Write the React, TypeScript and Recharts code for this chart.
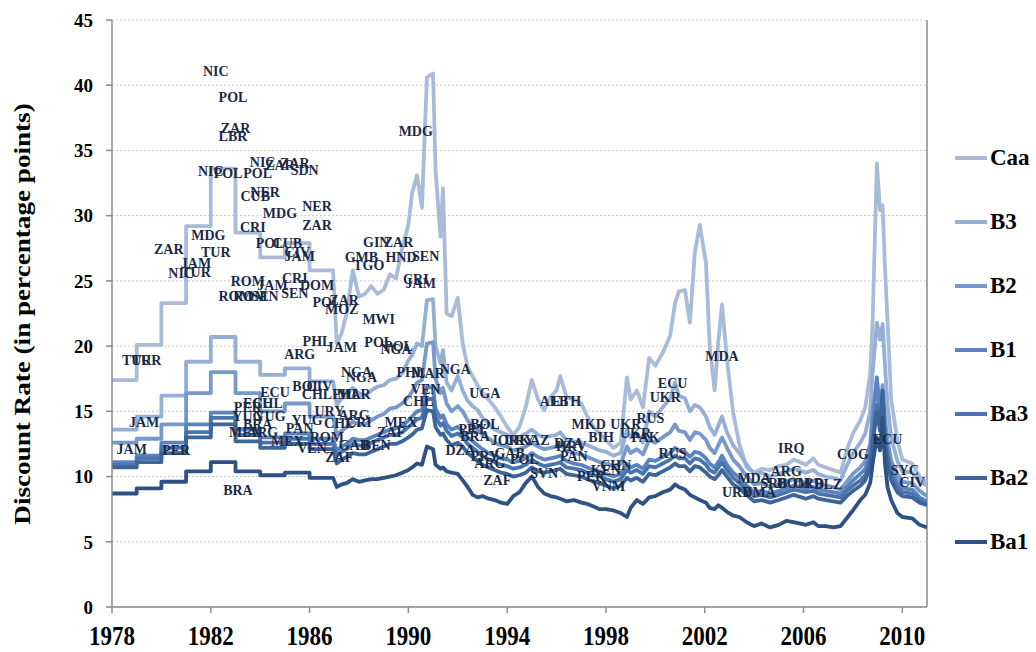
import { ComposedChart, Line, Scatter, XAxis, YAxis, CartesianGrid, ReferenceLine, Label } from 'recharts';

const FONT = '"Liberation Serif", "Times New Roman", serif';

// time points (duplicated years give the yearly steps before 1987)
const years = [
  1978, 1979, 1979, 1980, 1980, 1981, 1981, 1982, 1982, 1983, 1983, 1984, 1984, 1985, 1985, 1986, 1986, 1986.95,
  1987.1, 1987.3, 1987.5, 1987.75, 1988.0, 1988.25, 1988.5, 1988.75, 1989.0, 1989.25, 1989.5, 1989.75,
  1990.0, 1990.15, 1990.35, 1990.55, 1990.75, 1991.0, 1991.1, 1991.3, 1991.4, 1991.55, 1991.75,
  1992.0, 1992.2, 1992.4, 1992.6, 1992.8, 1993.0, 1993.25, 1993.5, 1993.75,
  1994.0, 1994.25, 1994.5, 1994.75, 1995.0, 1995.25, 1995.5, 1995.75,
  1996.0, 1996.15, 1996.4, 1996.7, 1997.0, 1997.25, 1997.5, 1997.75,
  1998.0, 1998.3, 1998.6, 1998.85, 1999.0, 1999.25, 1999.5, 1999.75,
  2000.0, 2000.3, 2000.6, 2000.8, 2000.95, 2001.2, 2001.4, 2001.6, 2001.8,
  2002.05, 2002.2, 2002.4, 2002.55, 2002.7, 2002.9, 2003.15, 2003.4, 2003.7,
  2004.0, 2004.3, 2004.65, 2005.0, 2005.3, 2005.6, 2006.1, 2006.4, 2006.6, 2006.9,
  2007.2, 2007.5, 2007.75, 2008.0, 2008.3, 2008.5, 2008.7, 2008.8, 2008.97,
  2009.1, 2009.2, 2009.3, 2009.4, 2009.55, 2009.8, 2010.0, 2010.4, 2010.7, 2011.0,
];

const caa = [
  17.4, 17.4, 20.1, 20.1, 23.3, 23.3, 29.2, 29.2, 33.6, 33.6, 28.7, 28.7, 26.8, 26.8, 27.9, 27.9, 25.8, 25.8,
  20.2, 21.0, 22.5, 25.8, 23.8, 24.0, 24.6, 24.0, 24.3, 25.5, 25.2, 27.5,
  29.3, 31.7, 33.1, 30.6, 40.6, 40.9, 33.5, 28.4, 32.1, 22.5, 22.3,
  23.7, 20.2, 18.4, 17.7, 17.0, 16.4, 15.9, 15.3, 14.6,
  13.8, 13.2, 13.8, 15.3, 17.4, 15.9, 15.1, 16.1,
  16.6, 17.7, 16.1, 15.9, 15.6, 14.6, 13.8, 13.3,
  12.8, 12.2, 12.6, 17.6, 15.9, 16.6, 15.3, 19.1,
  18.5, 19.5, 20.8, 23.3, 24.2, 24.3, 21.8, 27.2, 29.3,
  26.4, 20.0, 16.6, 20.3, 23.2, 19.0, 14.9, 12.5, 10.7,
  10.3, 10.6, 10.5, 10.8, 10.9, 11.3, 10.9, 11.4, 10.9, 10.7,
  10.5, 10.3, 12.0, 13.3, 14.3, 15.3, 17.9, 22.0, 34.0,
  30.4, 30.8, 26.0, 22.0, 15.9, 12.8, 11.3, 11.0, 10.0, 9.5,
];

const b3 = [
  13.6, 13.6, 14.6, 14.6, 16.2, 16.2, 18.8, 18.8, 20.7, 20.7, 18.8, 18.8, 17.8, 17.8, 18.3, 18.3, 17.3, 17.3,
  15.5, 16.0, 16.3, 16.8, 16.4, 16.2, 16.6, 16.9, 17.0, 17.4, 17.5, 17.9,
  18.9, 19.3, 20.2, 20.0, 23.5, 23.6, 20.0, 18.7, 19.7, 17.2, 16.6,
  17.7, 16.6, 15.8, 15.4, 15.1, 14.5, 14.1, 13.6, 13.4,
  13.2, 12.9, 13.0, 13.3, 13.6, 13.2, 13.0, 13.1,
  13.2, 13.4, 12.8, 12.7, 12.6, 12.4, 12.2, 12.0,
  11.9, 11.6, 11.8, 13.6, 13.0, 13.3, 12.6, 15.0,
  14.6, 15.3, 16.0, 17.2, 16.2, 16.0, 15.0, 15.5, 15.3,
  14.6, 13.8, 13.2, 13.9, 14.6, 13.4, 12.4, 11.8, 10.9,
  10.2, 10.3, 10.0, 10.2, 10.4, 10.6, 10.3, 10.5, 10.2, 10.0,
  9.9, 9.7, 10.8, 11.8, 12.6, 13.3, 15.0, 18.0, 21.8,
  20.5, 21.7, 18.5, 15.5, 13.0, 11.2, 10.4, 10.3, 9.6, 9.3,
];

const b2 = [
  12.6, 12.6, 12.9, 12.9, 14.0, 14.0, 16.4, 16.4, 18.0, 18.0, 16.4, 16.4, 15.0, 15.0, 15.6, 15.6, 14.6, 14.6,
  13.2, 13.5, 13.8, 14.2, 14.0, 14.0, 14.3, 14.6, 14.8, 15.2, 15.3, 15.6,
  16.1, 16.5, 17.2, 17.4, 20.2, 20.3, 17.5, 16.4, 16.8, 15.6, 15.0,
  15.4, 15.0, 14.3, 13.9, 13.6, 13.2, 12.9, 12.6, 12.4,
  12.3, 12.0, 12.1, 12.3, 12.6, 12.3, 12.1, 12.2,
  12.3, 12.5, 12.0, 11.8, 11.7, 11.5, 11.3, 11.1,
  11.0, 10.8, 11.0, 12.3, 11.8, 12.1, 11.7, 12.8,
  12.6, 13.0, 13.4, 14.0, 13.5, 13.4, 12.8, 13.4, 13.3,
  12.8, 12.2, 11.8, 12.4, 13.0, 12.2, 11.3, 10.8, 10.0,
  9.4, 9.5, 9.2, 9.4, 9.6, 9.8, 9.5, 9.7, 9.4, 9.3,
  9.2, 9.0, 9.6, 10.2, 10.7, 11.2, 12.5, 15.0, 17.4,
  15.0, 17.0, 14.5, 12.8, 11.2, 10.2, 9.6, 9.5, 8.9, 8.5,
];

const b1 = [
  11.1, 11.1, 11.6, 11.6, 12.6, 12.6, 14.0, 14.0, 14.9, 14.9, 13.6, 13.6, 13.0, 13.0, 13.3, 13.3, 12.9, 12.9,
  12.0, 12.3, 12.5, 12.9, 12.8, 12.8, 13.0, 13.2, 13.4, 13.6, 13.7, 13.9,
  14.3, 14.6, 15.0, 15.1, 16.9, 16.8, 15.2, 14.5, 14.7, 14.0, 13.6,
  13.8, 13.5, 13.0, 12.7, 12.4, 12.1, 11.8, 11.6, 11.4,
  11.3, 11.1, 11.2, 11.4, 11.8, 11.5, 11.3, 11.4,
  11.5, 11.6, 11.2, 11.0, 10.9, 10.7, 10.5, 10.4,
  10.2, 10.0, 10.2, 11.0, 10.7, 10.9, 10.6, 11.3,
  11.2, 11.5, 11.8, 12.2, 12.0, 11.9, 11.5, 11.9, 11.8,
  11.4, 11.0, 10.7, 11.1, 11.6, 10.9, 10.3, 9.9, 9.3,
  8.8, 8.9, 8.7, 8.9, 9.1, 9.3, 9.1, 9.2, 9.0, 8.9,
  8.8, 8.7, 9.2, 9.7, 10.2, 10.6, 11.8, 14.0, 17.6,
  14.5, 16.0, 13.5, 12.0, 10.5, 9.6, 9.1, 9.0, 8.4, 8.1,
];

const ba3 = [
  10.9, 10.9, 11.4, 11.4, 12.2, 12.2, 13.4, 13.4, 14.5, 14.5, 13.2, 13.2, 12.6, 12.6, 12.9, 12.9, 12.5, 12.5,
  11.6, 11.9, 12.1, 12.5, 12.4, 12.3, 12.6, 12.8, 13.0, 13.2, 13.2, 13.4,
  13.8, 14.0, 14.4, 14.5, 15.9, 16.0, 14.6, 13.9, 14.1, 13.5, 13.1,
  13.3, 13.0, 12.5, 12.2, 11.9, 11.6, 11.3, 11.1, 10.9,
  10.8, 10.6, 10.7, 10.9, 11.3, 11.0, 10.8, 10.9,
  11.0, 11.1, 10.7, 10.6, 10.5, 10.3, 10.1, 10.0,
  9.8, 9.6, 9.8, 10.5, 10.3, 10.5, 10.2, 10.8,
  10.7, 11.0, 11.3, 11.6, 11.4, 11.4, 11.0, 11.4, 11.3,
  10.9, 10.5, 10.3, 10.7, 11.1, 10.5, 9.9, 9.5, 9.0,
  8.5, 8.6, 8.4, 8.6, 8.8, 9.0, 8.8, 8.9, 8.7, 8.6,
  8.5, 8.4, 8.9, 9.3, 9.7, 10.1, 11.2, 13.0, 15.5,
  14.0, 16.4, 13.0, 11.5, 10.1, 9.2, 8.8, 8.7, 8.2, 8.0,
];

const ba2 = [
  10.7, 10.7, 11.1, 11.1, 11.8, 11.8, 13.0, 13.0, 14.0, 14.0, 12.7, 12.7, 12.2, 12.2, 12.5, 12.5, 12.1, 12.1,
  11.0, 11.3, 11.5, 11.8, 11.7, 11.7, 11.9, 12.1, 12.3, 12.5, 12.5, 12.7,
  13.0, 13.2, 13.6, 13.7, 15.1, 15.0, 13.8, 13.2, 13.3, 12.8, 12.4,
  12.6, 12.3, 11.8, 11.5, 11.2, 10.9, 10.7, 10.5, 10.3,
  10.2, 10.0, 10.1, 10.3, 10.7, 10.4, 10.3, 10.4,
  10.5, 10.6, 10.2, 10.1, 10.0, 9.8, 9.6, 9.5,
  9.3, 9.1, 9.3, 9.9, 9.7, 9.9, 9.6, 10.2,
  10.1, 10.4, 10.7, 11.0, 10.8, 10.8, 10.4, 10.8, 10.7,
  10.3, 10.0, 9.8, 10.1, 10.5, 10.0, 9.4, 9.1, 8.6,
  8.1, 8.2, 8.0, 8.2, 8.4, 8.6, 8.3, 8.5, 8.3, 8.2,
  8.1, 8.0, 8.5, 8.9, 9.3, 9.7, 10.8, 12.5, 15.0,
  13.5, 16.6, 12.5, 11.0, 9.7, 8.8, 8.5, 8.4, 8.0, 7.8,
];

const ba1 = [
  8.7, 8.7, 9.1, 9.1, 9.6, 9.6, 10.4, 10.4, 11.1, 11.1, 10.4, 10.4, 10.1, 10.1, 10.3, 10.3, 9.9, 9.9,
  9.2, 9.4, 9.5, 9.8, 9.6, 9.7, 9.8, 9.8, 9.9, 10.0, 10.1, 10.3,
  10.5, 10.7, 11.0, 10.9, 12.3, 12.1, 10.9, 10.6, 10.7, 10.4, 10.3,
  10.2, 9.7, 9.2, 8.6, 8.4, 8.5, 8.3, 8.2, 8.0,
  7.9, 8.5, 8.8, 9.5, 10.0, 9.2, 8.7, 8.5,
  8.4, 8.3, 8.1, 8.2, 8.0, 7.9, 7.7, 7.5,
  7.5, 7.4, 7.2, 6.9, 7.6, 8.2, 7.9, 8.4,
  8.5, 8.8, 9.0, 9.4, 9.2, 9.0, 8.6, 8.4, 8.2,
  8.0, 7.6, 7.5, 7.8, 7.6, 7.3, 7.0, 6.9, 6.5,
  6.2, 6.4, 6.1, 6.3, 6.6, 6.5, 6.3, 6.5, 6.2, 6.2,
  6.1, 6.2, 6.8, 7.4, 8.2, 8.6, 9.5, 11.0, 13.0,
  12.0, 14.5, 11.0, 9.2, 8.2, 7.2, 6.9, 6.8, 6.3, 6.1,
];

const seriesNames = ['Caa', 'B3', 'B2', 'B1', 'Ba3', 'Ba2', 'Ba1'];
const seriesKeys = ['caa', 'b3', 'b2', 'b1', 'ba3', 'ba2', 'ba1'];
const seriesColors = ['#a9bbd9', '#95afd5', '#7698ca', '#5a84c0', '#4a74ae', '#3d6599', '#2e5283'];

const xTicks = [1978, 1982, 1986, 1990, 1994, 1998, 2002, 2006, 2010];
const yTicks = [0, 5, 10, 15, 20, 25, 30, 35, 40, 45];

// country codes written into the chart
const labelCodes = [
  'NIC', 'POL', 'ZAR', 'LBR', 'NIC', 'POL', 'NIC', 'ZAR', 'ZAR', 'SDN', 'POL', 'NER', 'CUB', 'MDG', 'NER', 'ZAR',
  'CRI', 'MDG', 'ZAR', 'TUR', 'POL', 'CUB', 'CIV', 'JAM', 'GIN', 'ZAR', 'GMB', 'TGO', 'HND', 'SEN', 'CRI', 'JAM',
  'JAM', 'NIC', 'TUR', 'ROM', 'CRI', 'JAM', 'DOM', 'SEN', 'ROM', 'ROM', 'SEN', 'POL', 'ZAR', 'MOZ', 'MWI', 'MDG',
  'PHL', 'ARG', 'JAM', 'POL', 'POL', 'NGA', 'NGA', 'NGA', 'PHL', 'MAR', 'NGA', 'UGA', 'ECU', 'BOL', 'CIV', 'CHL',
  'PHL', 'MAR', 'URY', 'ARG', 'CHL', 'CRI', 'MEX', 'VEN', 'CHL', 'PER', 'ECU', 'CHL', 'YUG', 'YUG', 'BRA', 'MEX',
  'ARG', 'YUG', 'PAN', 'MEX', 'ROM', 'VEN', 'ZAF', 'GAB', 'BEN', 'ZAF', 'JAM', 'JAM', 'PER', 'TUR', 'TUR', 'BRA',
  'BOL', 'PRY', 'BRA', 'JOR', 'URY', 'KAZ', 'DZA', 'PRY', 'GAB', 'ARG', 'POL', 'ZAF', 'SVN', 'ALB', 'ETH', 'DZA',
  'HRV', 'PAN', 'MKD', 'BIH', 'PER', 'VNM', 'CHN', 'KEN', 'UKR', 'UKR', 'PAK', 'RUS', 'ECU', 'UKR', 'RUS', 'MDA',
  'IRQ', 'COG', 'ECU', 'SYC', 'CIV', 'MDA', 'URY', 'DMA', 'ARG', 'SRB', 'DOM', 'GRD', 'BLZ',
];
const labelYears = [
  1982.2, 1982.9, 1983.0, 1982.9, 1982.0, 1982.7, 1984.1, 1984.8, 1985.4, 1985.8, 1983.9, 1984.2, 1983.8, 1984.8, 1986.3, 1986.3,
  1983.7, 1981.9, 1980.3, 1982.2, 1984.4, 1985.1, 1985.5, 1985.6, 1988.7, 1989.6, 1988.1, 1988.4, 1989.7, 1990.7, 1990.3, 1990.5,
  1981.4, 1980.8, 1981.4, 1983.5, 1985.4, 1984.5, 1986.3, 1985.4, 1983.0, 1983.6, 1984.2, 1986.7, 1987.4, 1987.3, 1988.8, 1990.3,
  1986.3, 1985.6, 1987.3, 1988.8, 1989.6, 1989.5, 1987.9, 1988.1, 1990.1, 1990.8, 1991.9, 1993.1, 1984.6, 1985.9, 1986.4, 1986.3,
  1987.5, 1987.8, 1986.8, 1987.8, 1987.2, 1988.0, 1989.7, 1990.7, 1990.4, 1983.5, 1983.9, 1984.3, 1983.5, 1984.4, 1983.9, 1983.4,
  1984.1, 1985.9, 1985.6, 1985.1, 1986.7, 1986.1, 1987.2, 1987.8, 1988.7, 1989.3, 1979.3, 1978.8, 1980.6, 1979.0, 1979.4, 1983.1,
  1993.1, 1992.6, 1992.7, 1993.9, 1994.5, 1995.1, 1992.1, 1993.1, 1994.1, 1993.3, 1994.7, 1993.6, 1995.5, 1995.9, 1996.4, 1996.5,
  1996.6, 1996.7, 1997.3, 1997.8, 1997.4, 1998.1, 1998.4, 1998.0, 1998.8, 1999.2, 1999.6, 1999.8, 2000.7, 2000.4, 2000.7, 2002.7,
  2005.5, 2008.0, 2009.4, 2010.1, 2010.4, 2004.0, 2003.3, 2004.2, 2005.3, 2004.8, 2005.6, 2006.2, 2007.0,
];
const labelValues = [
  41.1, 39.1, 36.7, 36.1, 33.4, 33.3, 34.1, 33.9, 34.0, 33.5, 33.3, 31.8, 31.5, 30.2, 30.7, 29.3,
  29.1, 28.5, 27.4, 27.2, 27.9, 27.9, 27.2, 26.9, 28.0, 28.0, 26.8, 26.2, 26.8, 26.9, 25.1, 24.8,
  26.4, 25.6, 25.7, 25.0, 25.2, 24.7, 24.7, 24.1, 23.8, 23.8, 23.8, 23.4, 23.5, 22.8, 22.1, 36.5,
  20.4, 19.4, 19.9, 20.3, 20.0, 19.8, 18.0, 17.6, 18.0, 17.9, 18.2, 16.4, 16.5, 16.9, 16.9, 16.3,
  16.3, 16.3, 15.0, 14.7, 14.1, 14.2, 14.2, 16.7, 15.8, 15.3, 15.6, 15.6, 14.6, 14.6, 14.0, 13.4,
  13.4, 14.3, 13.7, 12.7, 13.0, 12.2, 11.5, 12.4, 12.4, 13.4, 14.2, 12.1, 12.0, 18.9, 18.9, 9.0,
  14.0, 13.6, 13.1, 12.8, 12.8, 12.8, 12.0, 11.6, 11.8, 11.0, 11.3, 9.7, 10.3, 15.8, 15.8, 12.6,
  12.3, 11.6, 14.0, 13.0, 10.0, 9.3, 10.9, 10.5, 14.0, 13.3, 13.0, 14.5, 17.2, 16.1, 11.8, 19.2,
  12.2, 11.7, 12.9, 10.5, 9.6, 9.9, 8.8, 8.8, 10.4, 9.5, 9.5, 9.5, 9.4,
];

const data = years.map((year, i) => ({
  year,
  caa: caa[i],
  b3: b3[i],
  b2: b2[i],
  b1: b1[i],
  ba3: ba3[i],
  ba2: ba2[i],
  ba1: ba1[i],
}));

const labelData = labelCodes.map((code, i) => ({ year: labelYears[i], value: labelValues[i], code }));

const renderCode = (props: any) => {
  const { cx, cy, payload } = props;
  return (
    <text
      x={cx}
      y={cy}
      dy="0.35em"
      textAnchor="middle"
      fill="#1b2a47"
      fontFamily={FONT}
      fontWeight="bold"
      fontSize={14}
    >
      {payload.code}
    </text>
  );
};

// year labels are drawn a little taller than wide, as in the source
const renderXTick = (props: any) => {
  const { x, y, payload } = props;
  return (
    <text
      transform={`translate(${x},${y}) scale(1,1.15)`}
      dy="0.71em"
      textAnchor="middle"
      fill="#000"
      fontFamily={FONT}
      fontWeight="bold"
      fontSize={23}
    >
      {payload.value}
    </text>
  );
};

const renderYTitle = () => (
  <text
    transform="translate(22,314) scale(1,1.18) rotate(-90)"
    textAnchor="middle"
    dominantBaseline="central"
    fontFamily={FONT}
    fontWeight="bold"
    fontSize={23}
    fill="#000"
  >
    Discount Rate (in percentage points)
  </text>
);

export default function App() {
  return (
    <div style={{ position: 'absolute', left: 0, top: 0, width: 1036, height: 652, background: '#fff' }}>
      <ComposedChart width={1036} height={652} data={data} margin={{ top: 20, right: 109, bottom: 10, left: 0 }}>
        <CartesianGrid vertical={false} stroke="#c8c8c8" strokeDasharray="2 2" />
        <XAxis
          dataKey="year"
          type="number"
          domain={[1978, 2011]}
          ticks={xTicks}
          allowDataOverflow
          height={35}
          tickSize={6}
          tickMargin={13}
          stroke="#8a8a8a"
          strokeWidth={1.5}
          tick={renderXTick}
        />
        <YAxis
          type="number"
          domain={[0, 45]}
          ticks={yTicks}
          allowDataOverflow
          width={112}
          tickSize={6}
          tickMargin={13}
          stroke="#8a8a8a"
          strokeWidth={1.5}
          tick={{ fill: '#000', fontSize: 19, fontWeight: 'bold', fontFamily: FONT }}
        >
          <Label content={renderYTitle} />
        </YAxis>
        <ReferenceLine x={2011} stroke="#8a8a8a" strokeWidth={1.5} />
        {seriesKeys.map((key, i) => (
          <Line
            key={key}
            dataKey={key}
            name={seriesNames[i]}
            type="linear"
            stroke={seriesColors[i]}
            strokeWidth={3.8}
            strokeLinejoin="round"
            dot={false}
            activeDot={false}
            isAnimationActive={false}
          />
        ))}
        <Scatter data={labelData} dataKey="value" shape={renderCode} isAnimationActive={false} />
      </ComposedChart>
      <div style={{ position: 'absolute', left: 955, top: 126, fontFamily: FONT, fontWeight: 'bold', fontSize: 23 }}>
        {seriesNames.map((name, i) => (
          <div key={name} style={{ display: 'flex', alignItems: 'center', height: 64 }}>
            <div style={{ width: 32, height: 4, background: seriesColors[i], marginRight: 3 }} />
            <span>{name}</span>
          </div>
        ))}
      </div>
    </div>
  );
}
